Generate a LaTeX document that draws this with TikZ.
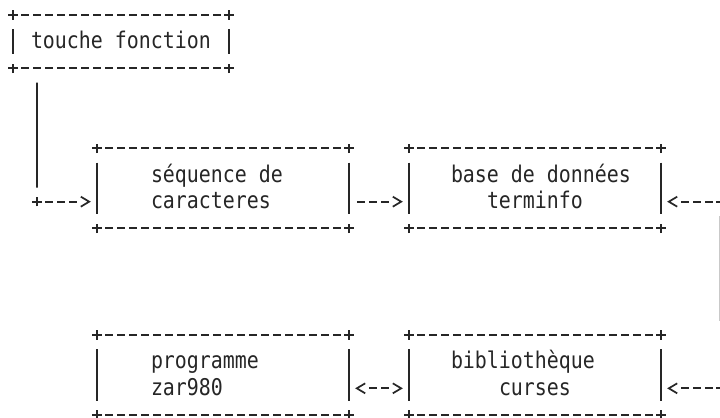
\documentclass[tikz,border=0pt]{standalone}
\usepackage{fontspec}
\newfontfamily\asciifont[FakeStretch=0.866]{DejaVu Sans Mono}
\usetikzlibrary{calc}
\definecolor{ink}{HTML}{262626}
\tikzset{
  glyph/.style={draw=ink, line width=1.7bp},
  hdash/.style={glyph, dash pattern=on 7.4bp off 4.6bp},
  boxnode/.style={rectangle, inner sep=0pt, outer sep=0pt, draw=none},
  lbl/.style={inner sep=0pt, outer sep=0pt, anchor=base west, text=ink,
    font=\asciifont\fontsize{23bp}{27bp}\selectfont},
}
\newcommand\pluscross[1]{\draw[glyph] ([xshift=-4.8bp]#1) -- ([xshift=4.8bp]#1)
  ([yshift=-4.8bp]#1) -- ([yshift=4.8bp]#1);}
\newcommand\gtglyph[1]{\draw[glyph, line join=miter] ([xshift=-4.2bp,yshift=5bp]#1) --
  ([xshift=4.2bp]#1) -- ([xshift=-4.2bp,yshift=-5bp]#1);}
\newcommand\ltglyph[1]{\draw[glyph, line join=miter] ([xshift=4.2bp,yshift=5bp]#1) --
  ([xshift=-4.2bp]#1) -- ([xshift=4.2bp,yshift=-5bp]#1);}
\newcommand\asciiframe[1]{%
  \draw[hdash] ([xshift=8.3bp]#1.north west) -- ([xshift=-8.3bp]#1.north east);
  \draw[hdash] ([xshift=8.3bp]#1.south west) -- ([xshift=-8.3bp]#1.south east);
  \draw[glyph] ([yshift=-14.17bp]#1.north west) -- ([yshift=14.17bp]#1.south west);
  \draw[glyph] ([yshift=-14.17bp]#1.north east) -- ([yshift=14.17bp]#1.south east);
  \pluscross{#1.north west}\pluscross{#1.north east}%
  \pluscross{#1.south west}\pluscross{#1.south east}}
\begin{document}
\begin{tikzpicture}[x=1bp, y=-1bp]
\useasboundingbox (0,0) rectangle (720,417);
\fill[white] (0,0) rectangle (720,417);

% boxes
\node[boxnode, minimum width=216bp, minimum height=53.33bp] (b1) at (121,41.67) {};
\node[boxnode, minimum width=252bp, minimum height=80bp] (b2) at (223,188.33) {};
\node[boxnode, minimum width=252bp, minimum height=80bp] (b3) at (535,188.33) {};
\node[boxnode, minimum width=252bp, minimum height=80bp] (b4) at (223,375) {};
\node[boxnode, minimum width=252bp, minimum height=80bp] (b5) at (535,375) {};
\asciiframe{b1}\asciiframe{b2}\asciiframe{b3}\asciiframe{b4}\asciiframe{b5}

% labels
\node[lbl] (t1) at (31,48.67) {touche fonction};
\node[lbl] (t2a) at (151,182) {séquence de};
\node[lbl] (t2b) at (151,208.67) {caracteres};
\node[lbl] (t3a) at (451,182) {base de données};
\node[lbl] (t3b) at (487,208.67) {terminfo};
\node[lbl] (t4a) at (151,368.67) {programme};
\node[lbl] (t4b) at (151,395.33) {zar980};
\node[lbl] (t5a) at (451,368.67) {bibliothèque};
\node[lbl] (t5b) at (499,395.33) {curses};

% connector: touche fonction -> sequence
\coordinate (k1) at (37,201.67);
\draw[glyph] ([xshift=24bp,yshift=-14.17bp]b1.south west) -- ([yshift=14.17bp]k1);
\pluscross{k1}
\draw[hdash, shorten <=8.3bp, shorten >=20.3bp] (k1) -- (b2.west |- k1);
\coordinate (g1) at ($(b2.west |- k1)+(-12,0)$);
\gtglyph{g1}

% sequence -> terminfo
\draw[hdash, shorten <=8.3bp, shorten >=20.3bp] (b2.east |- k1) -- (b3.west |- k1);
\coordinate (g2) at ($(b3.west |- k1)+(-12,0)$);
\gtglyph{g2}

% right side -> terminfo and -> curses
\coordinate (e1) at (721,201.67);
\coordinate (e2) at (721,388.33);
\pluscross{e1}\pluscross{e2}
\draw[glyph] ([yshift=-14.17bp]e1) -- ([yshift=14.17bp]e2);
\draw[ink!25, line width=0.8bp] (719.6,216) -- (719.6,321);
\draw[hdash, shorten <=8.3bp, shorten >=20.3bp] (e1) -- (b3.east |- e1);
\coordinate (l1) at ($(b3.east |- e1)+(12,0)$);
\ltglyph{l1}
\draw[hdash, shorten <=8.3bp, shorten >=20.3bp] (e2) -- (b5.east |- e2);
\coordinate (l2) at ($(b5.east |- e2)+(12,0)$);
\ltglyph{l2}

% zar980 <-> curses
\draw[hdash, shorten <=20.3bp, shorten >=20.3bp] (b4.east |- e2) -- (b5.west |- e2);
\coordinate (l3) at ($(b4.east |- e2)+(12,0)$);
\ltglyph{l3}
\coordinate (g3) at ($(b5.west |- e2)+(-12,0)$);
\gtglyph{g3}
\end{tikzpicture}
\end{document}
